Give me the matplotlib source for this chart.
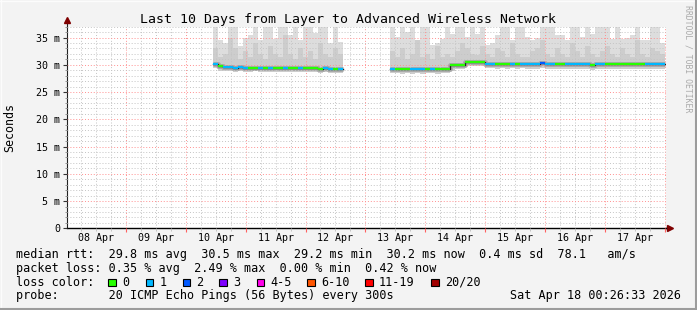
import numpy as np
import matplotlib
matplotlib.use('Agg')
import matplotlib.pyplot as plt
from matplotlib.patches import Rectangle
from matplotlib.lines import Line2D
from matplotlib.ticker import FixedLocator

# ---------------- data ----------------
# time axis: hours since 08 Apr 00:00; graph covers 08 Apr 00:26 .. 18 Apr 00:26
x_start, x_end = 0.433, 240.433
bin_h = 2.0
day_labels = ['08 Apr', '09 Apr', '10 Apr', '11 Apr', '12 Apr',
              '13 Apr', '14 Apr', '15 Apr', '16 Apr', '17 Apr']
y_ticks = [0, 5, 10, 15, 20, 25, 30, 35]
y_tick_labels = ['0', '5 m', '10 m', '15 m', '20 m', '25 m', '30 m', '35 m']

# segment 1 (10 Apr 11h .. 12 Apr 15h)
seg1_t = [59, 61, 63, 65, 67, 69, 71, 73, 75, 77, 79, 81, 83, 85, 87, 89, 91, 93, 95,
          97, 99, 101, 103, 105, 107, 109]
seg1_med = [30.1, 29.7, 29.6, 29.6, 29.5, 29.6, 29.5, 29.5, 29.5, 29.5, 29.4, 29.5, 29.5,
            29.4, 29.5, 29.4, 29.4, 29.5, 29.4, 29.4, 29.4, 29.3, 29.4, 29.3, 29.3, 29.3]
seg1_loss = [1, 0, 1, 1, 1, 1, 1, 0, 0, 1, 0, 1, 0, 0, 1, 0, 0, 1, 0, 0, 0, 0, 1, 1, 0, 1]
seg1_lo = [29.4, 28.9, 28.8, 28.8, 28.7, 28.8, 28.7, 28.7, 28.8, 28.7, 28.6, 28.7, 28.7,
           28.6, 28.7, 28.6, 28.6, 28.7, 28.6, 28.6, 28.6, 28.5, 28.6, 28.5, 28.5, 28.5]
seg1_mid = [33.0, 31.5, 32.0, 35.0, 33.0, 31.0, 32.5, 31.5, 34.0, 32.0, 31.0, 33.5, 32.0,
            31.5, 35.5, 32.0, 31.0, 33.0, 31.5, 32.5, 31.0, 34.0, 32.0, 31.5, 33.0, 32.0]
seg1_hi = [37.5, 34.5, 34.0, 37.5, 37.5, 33.5, 35.0, 35.5, 37.5, 34.5, 37.5, 37.5, 34.8,
           37.5, 37.5, 35.5, 37.5, 34.5, 37.5, 37.5, 35.8, 37.5, 37.5, 34.0, 37.5, 34.2]

# segment 2 (13 Apr 10h .. 18 Apr 00h)
seg2_t = [130, 132, 134, 136, 138, 140, 142, 144, 146, 148, 150, 152, 154, 156, 158, 160,
          162, 164, 166, 168, 170, 172, 174, 176, 178, 180, 182, 184, 186, 188, 190, 192,
          194, 196, 198, 200, 202, 204, 206, 208, 210, 212, 214, 216, 218, 220, 222, 224,
          226, 228, 230, 232, 234, 236, 238]
seg2_med = [29.3, 29.3, 29.3, 29.3, 29.2, 29.3, 29.2, 29.3, 29.3, 29.2, 29.3, 29.3, 29.9,
            30.0, 30.0, 30.5, 30.5, 30.5, 30.5,
            30.2, 30.2, 30.2, 30.2, 30.2, 30.1, 30.2, 30.2,
            30.1, 30.1, 30.2, 30.4, 30.2, 30.1, 30.1, 30.1, 30.1, 30.1, 30.2, 30.1, 30.1, 29.9,
            30.1, 30.1, 30.1, 30.1, 30.1, 30.1, 30.1, 30.1, 30.1, 30.1, 30.2, 30.2, 30.2, 30.2]
seg2_loss = [1, 0, 0, 0, 1, 1, 1, 0, 1, 0, 0, 0, 0, 0, 0, 0, 0, 0, 0,
             1, 1, 0, 0, 0, 1, 0, 1,
             1, 1, 1, 2, 1, 1, 0, 0, 1, 1, 1, 1, 1, 0, 1, 1, 0, 0, 0, 0, 0, 0, 0, 0,
             1, 1, 1, 1]
seg2_lo = [28.5, 28.5, 28.4, 28.5, 28.4, 28.5, 28.4, 28.5, 28.5, 28.4, 28.5, 28.5, 28.8,
           29.2, 29.2, 29.7, 29.7, 29.7, 29.7,
           29.4, 29.4, 29.3, 29.4, 29.3, 29.4, 29.3, 29.4,
           29.3, 29.3, 29.3, 29.5, 29.3, 29.3, 29.3, 29.3, 29.3, 29.3, 29.3, 29.3, 29.2, 29.0,
           29.3, 29.3, 29.3, 29.3, 29.3, 29.3, 29.3, 29.3, 29.3, 29.3, 29.3, 29.3, 29.3, 29.3]
seg2_mid = [32.5, 31.5, 33.0, 31.0, 32.0, 34.5, 31.5, 32.0, 31.0, 33.5, 31.5, 32.0, 31.5,
            32.5, 34.0, 33.0, 32.0, 31.8, 33.5, 32.0, 31.5, 33.0, 32.5, 31.5, 34.0, 32.0, 31.5,
            31.5, 32.5, 33.0, 34.5, 32.0, 31.5, 33.0, 32.0, 31.5, 34.0, 32.5, 31.5, 33.5, 32.0,
            31.5, 32.5, 33.5, 32.0, 31.5, 33.0, 32.0, 31.5, 34.5, 32.0, 31.5, 33.0, 32.5, 32.0]
seg2_hi = [37.5, 35.1, 37.5, 36.0, 37.5, 34.2, 37.5, 37.5, 33.6, 34.0, 34.8, 37.5, 35.7,
           37.5, 37.5, 35.1, 37.5, 35.7, 37.5, 33.6, 34.0, 35.4, 37.5, 37.5, 34.5, 37.5, 37.5,
           35.1, 34.5, 35.0, 37.5, 37.5, 37.5, 35.4, 35.4, 34.5, 37.5, 37.5, 35.1, 37.5, 35.7,
           37.5, 37.5, 37.5, 34.8, 37.5, 34.8, 35.0, 35.4, 37.5, 34.5, 34.5, 37.5, 37.5, 34.0]

loss_labels = ['0', '1', '2', '3', '4-5', '6-10', '11-19', '20/20']
loss_colors = ['#26ff00', '#00b8ff', '#0059ff', '#7e00ff', '#ff00ea', '#ff5500', '#ff0000', '#a10000']

legend_rtt = "median rtt:  29.8 ms avg  30.5 ms max  29.2 ms min  30.2 ms now  0.4 ms sd  78.1   am/s"
legend_loss = "packet loss: 0.35 % avg  2.49 % max  0.00 % min  0.42 % now"
legend_probe = "probe:       20 ICMP Echo Pings (56 Bytes) every 300s"
stamp = "Sat Apr 18 00:26:33 2026"
title = "Last 10 Days from Layer to Advanced Wireless Network"

# ---------------- figure ----------------
W, H = 697, 310
MONO = 'DejaVu Sans Mono'
fig = plt.figure(figsize=(W / 100, H / 100), dpi=100, facecolor='#f3f3f3')

def fx(x):
    return x / W

def fy(y):
    return 1 - y / H

ax_l, ax_r, ax_t, ax_b = 67, 666, 26.7, 228.3
ax = fig.add_axes([fx(ax_l), fy(ax_b), (ax_r - ax_l) / W, (ax_b - ax_t) / H])
ax.set_facecolor('white')
ax.set_xlim(x_start, x_end)
ax.set_ylim(0, 37)

segments = [
    (seg1_t, seg1_med, seg1_loss, seg1_lo, seg1_mid, seg1_hi),
    (seg2_t, seg2_med, seg2_loss, seg2_lo, seg2_mid, seg2_hi),
]

def ext(a):
    a = np.asarray(a, dtype=float)
    return np.append(a, a[-1])

for t, med, loss, lo, mid, hi in segments:
    t = np.asarray(t, dtype=float)
    edges = np.append(t, t[-1] + bin_h)
    ax.fill_between(edges, ext(lo), ext(hi), step='post', color='#dddddd', lw=0, zorder=1)
    ax.fill_between(edges, ext(lo), ext(mid), step='post', color='#cdcdcd', lw=0, zorder=1.2)
    ax.step(edges, ext(med), where='post', color='#a8a8a8', lw=3.5, zorder=1.4,
            solid_capstyle='butt')
    ax.step(edges, ext(med), where='post', color='#222222', lw=1, zorder=3)
    for ti, m, l in zip(t, med, loss):
        ax.hlines(m, ti, ti + bin_h, colors=loss_colors[l], lw=1.6, zorder=3.5)

# grid & ticks
midnights = list(range(24, 241, 24))
six_h = [h for h in range(6, 241, 6) if h % 24 != 0]
noons = [12 + 24 * i for i in range(len(day_labels))]
ax.xaxis.set_major_locator(FixedLocator(midnights))
ax.xaxis.set_minor_locator(FixedLocator(six_h))
ax.set_xticklabels([])
ax.yaxis.set_major_locator(FixedLocator(y_ticks))
ax.yaxis.set_minor_locator(FixedLocator([v for v in range(1, 38) if v % 5 != 0]))
ax.set_yticklabels(y_tick_labels, fontfamily=MONO, fontsize=7.2)
ax.set_axisbelow(False)
ax.grid(which='major', color='#ff9090', ls=(0, (1, 2)), lw=0.7)
ax.grid(which='minor', color='#c4c4c4', ls=(0, (1, 2)), lw=0.7)
ax.tick_params(axis='x', which='major', length=3, color='#ff6060', direction='out')
ax.tick_params(axis='x', which='minor', length=2, color='#bbbbbb', direction='out')
ax.tick_params(axis='y', which='major', length=3, color='#333333', pad=2)
ax.tick_params(axis='y', which='minor', length=1.5, color='#888888')

sec = ax.secondary_xaxis('bottom')
sec.set_xticks(noons, day_labels, fontfamily=MONO, fontsize=7.2)
sec.tick_params(length=0, pad=3.5)
sec.spines['bottom'].set_visible(False)

for s in ['top', 'right']:
    ax.spines[s].set_visible(False)
ax.spines['left'].set_color('#222222')
ax.spines['bottom'].set_color('black')
ax.spines['left'].set_linewidth(0.8)
ax.spines['bottom'].set_linewidth(1.0)

# axis extensions with arrows
ax.plot([0, 0], [1.0, 1.03], color='#222222', lw=0.8, transform=ax.transAxes, clip_on=False)
ax.plot([1.0, 1.005], [0, 0], color='black', lw=1.0, transform=ax.transAxes, clip_on=False)
ax.plot([0], [1.034], marker='^', ms=4.5, color='#7f0000', mec='#7f0000',
        transform=ax.transAxes, clip_on=False)
ax.plot([1.006], [0], marker='>', ms=4.5, color='#7f0000', mec='#7f0000',
        transform=ax.transAxes, clip_on=False)

# texts
fig.text(0.5, fy(19), title, ha='center', va='center', fontfamily=MONO, fontsize=9.5)
fig.text(fx(10), fy(127.5), 'Seconds', rotation=90, ha='center', va='center',
         fontfamily=MONO, fontsize=8.4)
fig.text(fx(688), fy(59), 'RRDTOOL / TOBI OETIKER', rotation=270, ha='center',
         va='center', fontfamily=MONO, fontsize=5.9, color='#aaaaaa')

fig.text(fx(16), fy(254.3), legend_rtt, va='center', fontfamily=MONO, fontsize=8.5)
fig.text(fx(16), fy(268.3), legend_loss, va='center', fontfamily=MONO, fontsize=8.5)
fig.text(fx(16), fy(282.3), 'loss color:', va='center', fontfamily=MONO, fontsize=8.5)
fig.text(fx(16), fy(295.7), legend_probe, va='center', fontfamily=MONO, fontsize=8.5)
fig.text(fx(681), fy(295.7), stamp, ha='right', va='center', fontfamily=MONO, fontsize=8.5)

box_x = [108.3, 145.7, 182.7, 219.3, 256.7, 307.3, 365.3, 431.0]
bs = 7.5
for bx, lab, col in zip(box_x, loss_labels, loss_colors):
    fig.patches.append(Rectangle((fx(bx), fy(282.3 + bs / 2)), bs / W, bs / H,
                                 transform=fig.transFigure, facecolor=col,
                                 edgecolor='black', lw=0.8))
    fig.text(fx(bx + 13.7), fy(282.3), lab, va='center', fontfamily=MONO, fontsize=8.5)

# 3D-ish frame
fig.lines.append(Line2D([0, 1], [fy(0.5), fy(0.5)], transform=fig.transFigure, color='#fcfcfc', lw=1))
fig.lines.append(Line2D([fx(0.5), fx(0.5)], [0, 1], transform=fig.transFigure, color='#fcfcfc', lw=1))
fig.lines.append(Line2D([0, 1], [fy(309), fy(309)], transform=fig.transFigure, color='#9c9c9c', lw=1.5))
fig.lines.append(Line2D([fx(696), fx(696)], [0, 1], transform=fig.transFigure, color='#9c9c9c', lw=1.5))

fig.savefig('out.png', dpi=100, facecolor=fig.get_facecolor())
